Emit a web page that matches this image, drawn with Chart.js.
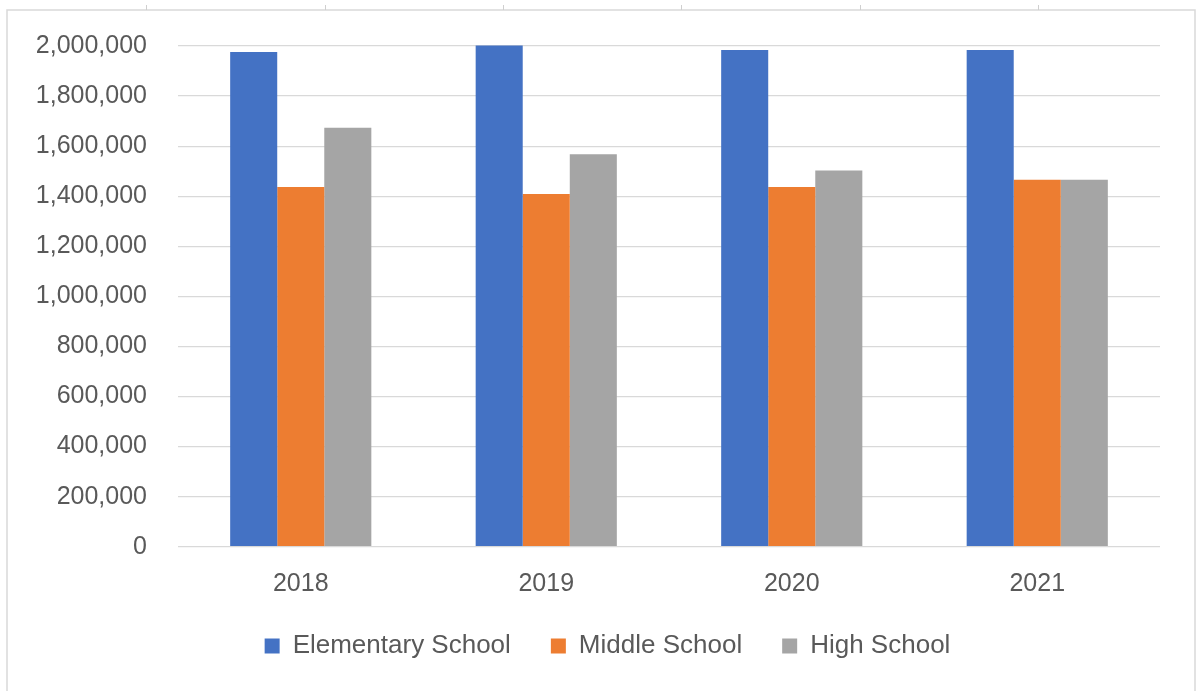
<!DOCTYPE html>
<html>
<head>
<meta charset="utf-8">
<script src="https://cdn.jsdelivr.net/npm/chart.js@4"></script>
<style>
  html, body { margin: 0; padding: 0; background: #ffffff; }
  #wrap { width: 1197px; height: 691px; position: relative; }
</style>
</head>
<body>
<div id="wrap"><canvas id="c" width="1197" height="691"></canvas></div>
<script>
const categories = ['2018', '2019', '2020', '2021'];
const elementarySchool = [1976000, 2002000, 1984000, 1984000];
const middleSchool = [1437000, 1409000, 1437000, 1466000];
const highSchool = [1673000, 1568000, 1503000, 1466000];
const seriesNames = ['Elementary School', 'Middle School', 'High School'];
const yMin = 0, yMax = 2000000, yStep = 200000;

const FONT = "'Liberation Sans', Arial, sans-serif";
const TXT = '#595959';

const framePlugin = {
  id: 'frame',
  beforeDraw(chart) {
    const ctx = chart.ctx;
    ctx.save();
    ctx.fillStyle = '#ffffff';
    ctx.fillRect(0, 0, chart.width, chart.height);
    ctx.strokeStyle = '#d9d9d9';
    ctx.lineWidth = 1.5;
    ctx.beginPath();
    ctx.moveTo(7, 691);
    ctx.lineTo(7, 10);
    ctx.lineTo(1195, 10);
    ctx.lineTo(1195, 691);
    ctx.stroke();
    ctx.lineWidth = 1;
    ctx.strokeStyle = '#cfcfcf';
    [146, 325, 503, 681, 860, 1038].forEach(x => {
      ctx.beginPath();
      ctx.moveTo(x + 0.5, 5);
      ctx.lineTo(x + 0.5, 10);
      ctx.stroke();
    });
    ctx.restore();
  }
};

// shift legend so it is centred like the reference
const legendShift = {
  id: 'legendShift',
  afterLayout(chart) {
    if (chart.legend) { chart.legend.left += 55; }
  }
};

new Chart(document.getElementById('c'), {
  type: 'bar',
  data: {
    labels: categories,
    datasets: [
      { label: seriesNames[0], data: elementarySchool, backgroundColor: '#4472C4', clip: false },
      { label: seriesNames[1], data: middleSchool, backgroundColor: '#ED7D31', clip: false },
      { label: seriesNames[2], data: highSchool, backgroundColor: '#A5A5A5', clip: false }
    ]
  },
  options: {
    responsive: false,
    animation: false,
    devicePixelRatio: 1,
    layout: { padding: { left: 0, right: 37, top: 43, bottom: 22 } },
    datasets: { bar: { barPercentage: 1.0, categoryPercentage: 0.575, borderWidth: 0 } },
    scales: {
      x: {
        grid: { display: false },
        border: { display: false },
        ticks: { color: TXT, font: { family: FONT, size: 25 }, padding: 14 },
        afterFit(scale) { scale.height = 46.3; }
      },
      y: {
        min: yMin, max: yMax,
        grid: { color: '#d9d9d9', lineWidth: 1.2, drawTicks: false },
        border: { display: false },
        ticks: {
          stepSize: yStep,
          color: TXT,
          font: { family: FONT, size: 25 },
          padding: 31,
          callback: v => Number(v).toLocaleString('en-US')
        },
        afterFit(scale) { scale.width = 178; }
      }
    },
    plugins: {
      legend: {
        position: 'bottom',
        labels: {
          color: TXT,
          font: { family: FONT, size: 26 },
          boxWidth: 15, boxHeight: 15,
          padding: 40
        }
      },
      tooltip: { enabled: false }
    }
  },
  plugins: [framePlugin, legendShift]
});
</script>
</body>
</html>
